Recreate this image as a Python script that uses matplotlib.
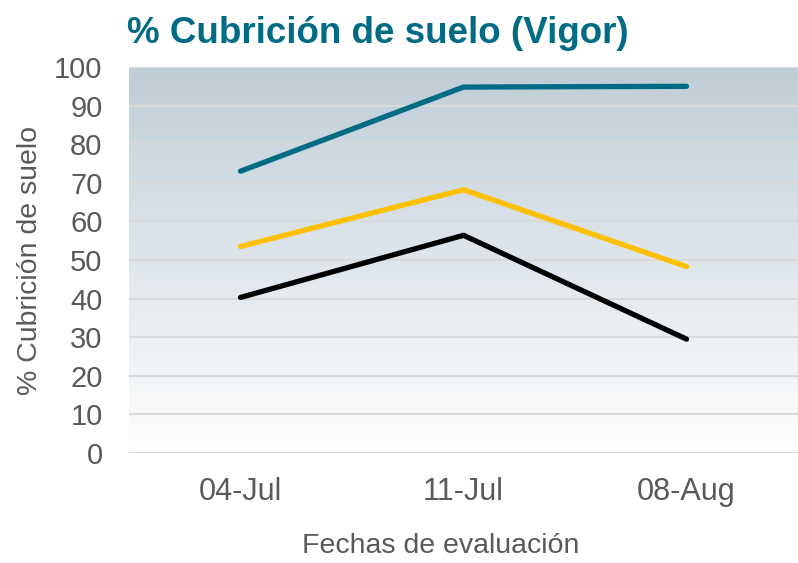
import numpy as np
import matplotlib.pyplot as plt
from matplotlib.colors import LinearSegmentedColormap

plt.rcParams['font.family'] = ['Liberation Sans', 'DejaVu Sans']

fechas = ['04-Jul', '11-Jul', '08-Aug']
serie_azul = [73.0, 94.8, 95.0]
serie_amarilla = [53.5, 68.2, 48.3]
serie_negra = [40.3, 56.4, 29.5]

gris = '#595959'
teal = '#006B84'

fig = plt.figure(figsize=(7.98, 5.63), dpi=100)
ax = fig.add_axes([129 / 798, 110 / 563, 1 - 129 / 798, 386 / 563])

# fondo degradado
cmap = LinearSegmentedColormap.from_list('fondo', ['#ffffff', '#bfcdd7'])
grad = np.linspace(0, 1, 256).reshape(-1, 1)
ax.imshow(grad, cmap=cmap, aspect='auto', origin='lower',
          extent=[0, 1, 0, 1], transform=ax.transAxes, zorder=0)

x = np.arange(len(fechas))
for y, c in [(serie_azul, teal), (serie_amarilla, '#FFC000'), (serie_negra, '#000000')]:
    ax.plot(x, y, color=c, lw=3.8, solid_capstyle='round', solid_joinstyle='round', zorder=3)

ax.set_xlim(-0.5, 2.5)
ax.set_ylim(0, 100)
ax.set_yticks(range(0, 101, 10))
ax.set_xticks(x)
ax.set_xticklabels(fechas)
ax.grid(axis='y', color='#d9d9d9', lw=1.5, zorder=1)
ax.set_axisbelow(True)
for s in ax.spines.values():
    s.set_visible(False)
ax.tick_params(axis='y', length=0, labelsize=21, colors=gris, pad=19)
ax.tick_params(axis='x', length=0, labelsize=22, colors=gris, pad=17)

ax.set_xlabel('Fechas de evaluación', fontsize=20.5, color=gris, labelpad=19)
ax.xaxis.label.set_x(0.466)
ax.set_ylabel('% Cubrición de suelo', fontsize=20.5, color=gris, labelpad=8)

fig.text(127 / 798, (563 - 43) / 563, '% Cubrición de suelo (Vigor)',
         fontsize=26.5, fontweight='bold', color=teal, va='baseline', ha='left')

fig.savefig('out.png', dpi=100)
